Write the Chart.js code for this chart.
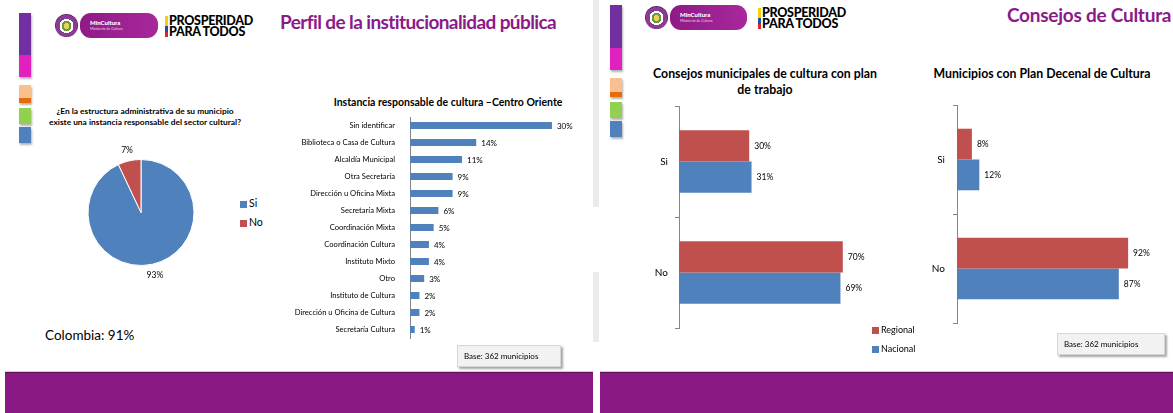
<!DOCTYPE html>
<html lang="es">
<head>
<meta charset="utf-8">
<title>Perfil de la institucionalidad pública · Consejos de Cultura</title>
<script src="https://cdn.jsdelivr.net/npm/chart.js@4.4.0/dist/chart.umd.min.js"></script>
<style>
  html, body { margin: 0; padding: 0; }
  body {
    width: 1173px; height: 413px; position: relative; overflow: hidden;
    background: #fff; font-family: Lato, 'Noto Sans', sans-serif; color: #000;
  }
  .abs { position: absolute; }
  canvas { position: absolute; }

  /* side colour tabs */
  .tab { position: absolute; width: 12px; box-shadow: 1px 2px 2px rgba(0,0,0,0.3); }

  /* header logos */
  .emblem {
    position: absolute; width: 23px; height: 23px; border-radius: 50%;
    background: radial-gradient(circle at 50% 52%, #e8d45a 0 3px, #6f9a3c 3px 5px, #fff 5px 7px, #8a3b96 7px 11px, #5a2070 11px);
  }
  .pill {
    position: absolute; height: 25px; border-radius: 11px;
    background: linear-gradient(90deg, #8f1a86, #a8289c);
    color: #fff;
  }
  .pill b { position: absolute; left: 10px; top: 6px; font-size: 6px; font-weight: 900; }
  .pill i { position: absolute; left: 10px; top: 14px; font-size: 3.5px; font-style: normal; opacity: 0.8; }
  .prosp { position: absolute; font-weight: 900; font-size: 12.5px; line-height: 11px; letter-spacing: -0.3px; color: #000; }
  .flag { position: absolute; width: 3px; height: 21px;
    background: linear-gradient(#f5d10a 0 50%, #1f4fa0 50% 75%, #d8262c 75%); }

  .slide-title { position: absolute; color: #8b1a89; font-weight: 700; font-size: 19px; letter-spacing: -0.6px; white-space: nowrap; }
  .chart-title { position: absolute; font-weight: 700; text-align: center; white-space: nowrap; }

  .base {
    position: absolute; background: #f2f2f2; border: 1px solid #d6d6d6;
    box-shadow: 2px 2px 2px rgba(0,0,0,0.35); font-size: 8px; line-height: 20px;
    padding-left: 6px; box-sizing: border-box;
  }
  .legend { position: absolute; font-size: 9px; line-height: 10px; white-space: nowrap; }
  .legend span { display: inline-block; width: 7px; height: 7px; margin-right: 2px; vertical-align: -0.5px; }

  .footer { position: absolute; top: 372px; height: 41px; background: #8a1884;
    border-top: 1px solid #5f1059; box-shadow: 0 -1px 0 #e3c3df; }
  .edge { position: absolute; left: 593px; width: 6px; background: #ebebee; }
</style>
</head>
<body>

<!-- slide 1 -->
<div class="tab" style="left:19px; top:13px; height:42px; background:#7030a0"></div>
<div class="tab" style="left:19px; top:55px; height:22px; background:#e020bf"></div>
<div class="tab" style="left:19px; top:85px; height:13px; background:#fabf8f"></div>
<div class="tab" style="left:19px; top:98px; height:5px; background:#e46c0a"></div>
<div class="tab" style="left:19px; top:108px; height:16px; background:#92d050"></div>
<div class="tab" style="left:19px; top:127px; height:16px; background:#4f81bd"></div>

<div class="emblem" style="left:55px; top:14px"></div>
<div class="pill" style="left:80px; top:13px; width:78px"><b>MinCultura</b><i>Ministerio de Cultura</i></div>
<div class="flag" style="left:165px; top:16px"></div>
<div class="prosp" style="left:169px; top:15px">PROSPERIDAD<br>PARA TODOS</div>

<div class="slide-title" style="left:280px; top:10px">Perfil de la institucionalidad pública</div>

<div class="chart-title" style="left:45px; top:106px; width:200px; font-size:8.4px; line-height:11px">¿En la estructura administrativa de su municipio<br>existe una instancia responsable del sector cultural?</div>
<canvas id="pie" width="162" height="145" style="left:60px; top:140px"></canvas>
<div class="legend" style="left:240px; top:194px; font-size:10.5px; line-height:19px">
  <div><span style="background:#4f81bd"></span>Si</div>
  <div><span style="background:#c0504d"></span>No</div>
</div>
<div class="abs" style="left:45px; top:327px; font-size:13.5px">Colombia: 91%</div>

<div class="chart-title" style="left:300px; top:96px; width:296px; font-size:10.5px">Instancia responsable de cultura –Centro Oriente</div>
<canvas id="instancia" width="300" height="235" style="left:290px; top:110px"></canvas>
<div class="base" style="left:457px; top:345px; width:104px; height:22px">Base: 362 municipios</div>

<div class="edge" style="top:0; height:207px"></div>
<div class="edge" style="top:272px; height:70px"></div>
<div class="footer" style="left:5px; width:588px"></div>

<!-- slide 2 -->
<div class="tab" style="left:610px; top:5px; height:43px; background:#7030a0"></div>
<div class="tab" style="left:610px; top:48px; height:22px; background:#e020bf"></div>
<div class="tab" style="left:610px; top:78px; height:14px; background:#fabf8f"></div>
<div class="tab" style="left:610px; top:92px; height:5px; background:#e46c0a"></div>
<div class="tab" style="left:610px; top:102px; height:16px; background:#92d050"></div>
<div class="tab" style="left:610px; top:121px; height:16px; background:#4f81bd"></div>

<div class="emblem" style="left:645px; top:6px"></div>
<div class="pill" style="left:670px; top:5px; width:77px"><b>MinCultura</b><i>Ministerio de Cultura</i></div>
<div class="flag" style="left:758px; top:8px"></div>
<div class="prosp" style="left:762px; top:7px">PROSPERIDAD<br>PARA TODOS</div>

<div class="slide-title" style="left:1007px; top:3px; letter-spacing:-0.25px">Consejos de Cultura</div>

<div class="chart-title" style="left:615px; top:66px; width:300px; font-size:12.3px; line-height:16px">Consejos municipales de cultura con plan<br>de trabajo</div>
<canvas id="consejos" width="250" height="236" style="left:630px; top:100px"></canvas>
<div class="legend" style="left:872px; top:320px; line-height:19px">
  <div><span style="background:#c0504d"></span>Regional</div>
  <div><span style="background:#4f81bd"></span>Nacional</div>
</div>

<div class="chart-title" style="left:892px; top:66px; width:300px; font-size:12.3px">Municipios con Plan Decenal de Cultura</div>
<canvas id="decenal" width="250" height="236" style="left:910px; top:100px"></canvas>
<div class="base" style="left:1057px; top:333px; width:108px; height:22px">Base: 362 municipios</div>

<div class="footer" style="left:600px; width:573px"></div>

<script>
// Pie: existence of a cultural office in the municipality
const pieCategories = ['Si', 'No'];
const pieValues = [93, 7];

// Bars: responsible office, Centro Oriente region
const instanciaLabels = [
  'Sin identificar', 'Biblioteca o Casa de Cultura', 'Alcaldía Municipal', 'Otra Secretaría',
  'Dirección u Oficina Mixta', 'Secretaría Mixta', 'Coordinación Mixta', 'Coordinación Cultura',
  'Instituto Mixto', 'Otro', 'Instituto de Cultura', 'Dirección u Oficina de Cultura', 'Secretaría Cultura'
];
const instanciaValues = [30, 14, 11, 9, 9, 6, 5, 4, 4, 3, 2, 2, 1];

// Grouped bars: Regional vs Nacional
const siNo = ['Si', 'No'];
const consejosRegional = [30, 70];
const consejosNacional = [31, 69];
const decenalRegional = [8, 92];
const decenalNacional = [12, 87];

const BLUE = '#4f81bd';
const RED = '#c0504d';
const AXIS = '#868686';

Chart.defaults.font.family = "Lato, 'Noto Sans', sans-serif";
Chart.defaults.color = '#000';
Chart.defaults.animation = false;
Chart.defaults.plugins.legend.display = false;
Chart.defaults.plugins.tooltip.enabled = false;

// "NN%" next to the end of every bar
const valueLabels = {
  id: 'valueLabels',
  afterDatasetsDraw(chart, args, opts) {
    const ctx = chart.ctx;
    ctx.save();
    ctx.font = opts.size + "px Lato, 'Noto Sans', sans-serif";
    ctx.fillStyle = '#000';
    ctx.textAlign = 'left';
    ctx.textBaseline = 'middle';
    chart.data.datasets.forEach((ds, i) => {
      chart.getDatasetMeta(i).data.forEach((bar, j) => {
        ctx.fillText(ds.data[j] + '%', bar.x + opts.offset, bar.y + 0.5);
      });
    });
    ctx.restore();
  }
};

// percentage labels just outside each slice
const sliceLabels = {
  id: 'sliceLabels',
  afterDatasetsDraw(chart, args, opts) {
    const ctx = chart.ctx;
    const ds = chart.data.datasets[0];
    ctx.save();
    ctx.font = opts.size + "px Lato, 'Noto Sans', sans-serif";
    ctx.fillStyle = '#000';
    ctx.textAlign = 'center';
    ctx.textBaseline = 'middle';
    chart.getDatasetMeta(0).data.forEach((arc, i) => {
      const mid = (arc.startAngle + arc.endAngle) / 2;
      const r = arc.outerRadius + opts.offset;
      ctx.fillText(ds.data[i] + '%', arc.x + Math.cos(mid) * r, arc.y + Math.sin(mid) * r);
    });
    ctx.restore();
  }
};

// category axis keeps a fixed width and no extra label padding,
// so the plot area is exactly what layout.padding leaves
const fixedAxis = (width) => (scale) => {
  scale.width = width;
  scale.paddingTop = 0;
  scale.paddingBottom = 0;
};

new Chart(document.getElementById('pie'), {
  type: 'pie',
  data: {
    labels: pieCategories,
    datasets: [{ data: pieValues, backgroundColor: [BLUE, RED], borderColor: '#fff', borderWidth: 1 }]
  },
  options: {
    responsive: false,
    layout: { padding: { left: 27, right: 27, top: 19, bottom: 19 } },
    plugins: { sliceLabels: { size: 8.5, offset: 11 } }
  },
  plugins: [sliceLabels]
});

new Chart(document.getElementById('instancia'), {
  type: 'bar',
  data: {
    labels: instanciaLabels,
    datasets: [{ data: instanciaValues, backgroundColor: BLUE, categoryPercentage: 1, barPercentage: 0.42 }]
  },
  options: {
    indexAxis: 'y',
    responsive: false,
    layout: { padding: { top: 7, bottom: 7, left: 0, right: 14.4 } },
    plugins: { valueLabels: { size: 8, offset: 5 } },
    scales: {
      x: { display: false, min: 0, max: 35 },
      y: {
        grid: { display: false },
        border: { color: AXIS },
        ticks: { font: { size: 7.6 }, padding: 7, color: '#000' },
        afterFit: fixedAxis(120)
      }
    }
  },
  plugins: [valueLabels]
});

// Regional / Nacional comparison, one chart per question
function groupedBars(id, regional, nacional, xMax, yWidth, padding, labelPad) {
  return new Chart(document.getElementById(id), {
    type: 'bar',
    data: {
      labels: siNo,
      datasets: [
        { label: 'Regional', data: regional, backgroundColor: RED },
        { label: 'Nacional', data: nacional, backgroundColor: BLUE }
      ]
    },
    options: {
      indexAxis: 'y',
      responsive: false,
      categoryPercentage: 0.565,
      barPercentage: 1,
      layout: { padding: padding },
      plugins: { valueLabels: { size: 8.5, offset: 5 } },
      scales: {
        x: { display: false, min: 0, max: xMax },
        y: {
          grid: { display: true, drawOnChartArea: false, drawTicks: true, tickLength: 4, color: AXIS },
          border: { color: AXIS },
          ticks: { font: { size: 10 }, padding: labelPad, color: '#000' },
          afterFit: fixedAxis(yWidth)
        }
      }
    },
    plugins: [valueLabels]
  });
}

groupedBars('consejos', consejosRegional, consejosNacional, 80, 49,
  { top: 6, bottom: 8, left: 0, right: 13.8 }, 7);
groupedBars('decenal', decenalRegional, decenalNacional, 100, 47,
  { top: 5, bottom: 13, left: 0, right: 17 }, 8);
</script>
</body>
</html>
